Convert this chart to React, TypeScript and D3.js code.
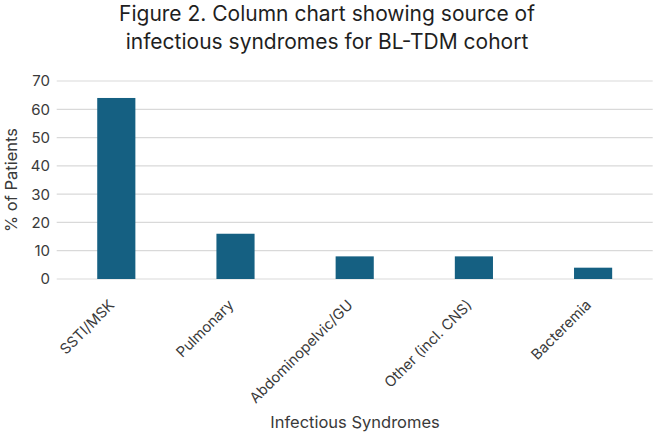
import React from 'react';
import * as d3 from 'd3';

const categories = ['SSTI/MSK', 'Pulmonary', 'Abdominopelvic/GU', 'Other (incl. CNS)', 'Bacteremia'];
const percentPatients = [64, 16, 8, 8, 4];
const yTicks = [0, 10, 20, 30, 40, 50, 60, 70];

const W = 654;
const H = 434;
const FONT = 'Inter, "Liberation Sans", sans-serif';

export default function App() {
    const margin = { top: 81, right: 1.3, bottom: 155, left: 56.7 };

    const x = d3.scaleBand<string>()
        .domain(categories)
        .range([margin.left, W - margin.right])
        .paddingInner(0.68)
        .paddingOuter(0.34);

    const y = d3.scaleLinear()
        .domain([0, 70])
        .range([279, margin.top]);

    return (
        <div style={{ position: 'absolute', left: 0, top: 0 }}>
            <svg width={W} height={H} viewBox={`0 0 ${W} ${H}`} style={{ display: 'block', background: '#fff' }}>
                {/* title */}
                <g fontFamily={FONT} fontSize={21} fill="#1f1f1f" textAnchor="middle">
                    <text x={W / 2} y={21}>Figure 2. Column chart showing source of</text>
                    <text x={W / 2} y={49}>infectious syndromes for BL-TDM cohort</text>
                </g>

                {/* gridlines + y tick labels */}
                {yTicks.map(t => (
                    <g key={t}>
                        <line x1={margin.left} x2={W - margin.right} y1={y(t)} y2={y(t)} stroke="#d9d9d9" strokeWidth={1.2} />
                        <text x={50} y={y(t)} dy="0.36em" textAnchor="end" fontFamily={FONT} fontSize={15} fill="#3a3a3a">
                            {t}
                        </text>
                    </g>
                ))}

                {/* bars */}
                {categories.map((c, i) => (
                    <rect
                        key={c}
                        x={x(c)!}
                        y={y(percentPatients[i])}
                        width={x.bandwidth()}
                        height={y(0) - y(percentPatients[i])}
                        fill="#156082"
                    />
                ))}

                {/* category labels */}
                {categories.map(c => {
                    const cx = x(c)! + x.bandwidth() / 2 - 1;
                    const cy = 306;
                    return (
                        <text
                            key={c}
                            x={cx}
                            y={cy}
                            transform={`rotate(-45,${cx},${cy})`}
                            textAnchor="end"
                            fontFamily={FONT}
                            fontSize={14.6}
                            fill="#3a3a3a"
                        >
                            {c}
                        </text>
                    );
                })}

                {/* axis titles */}
                <text x={355} y={428} textAnchor="middle" fontFamily={FONT} fontSize={16.5} fill="#3a3a3a">
                    Infectious Syndromes
                </text>
                <text
                    transform={`translate(17,180) rotate(-90)`}
                    textAnchor="middle"
                    fontFamily={FONT}
                    fontSize={16.5}
                    fill="#3a3a3a"
                >
                    % of Patients
                </text>
            </svg>
        </div>
    );
}
